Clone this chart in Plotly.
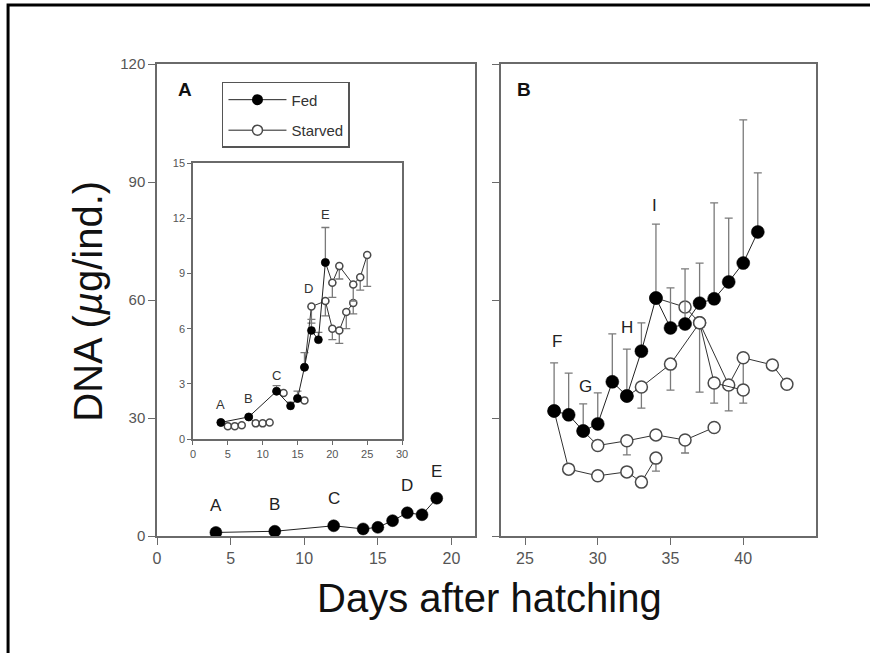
import plotly.graph_objects as go

# ---------------- data ----------------
# Panel A: fed larvae (days 4-19)
fed_A_days = [4, 8, 12, 14, 15, 16, 17, 18, 19]
fed_A_vals = [0.9, 1.2, 2.6, 1.8, 2.2, 3.9, 5.9, 5.4, 9.6]
fed_A_err = [0.1, 0.1, 0.3, 0.2, 0.4, 0.8, 0.6, 0.4, 1.9]
fed_A_labels = ["A", "B", "C", "", "", "", "D", "", "E"]

# Inset: starved series (first point = day starvation began, fed value)
inA_days = [4, 5, 6, 7]
inA_vals = [0.9, 0.7, 0.7, 0.75]
inB_days = [8, 9, 10, 11]
inB_vals = [1.2, 0.85, 0.85, 0.9]
inC_days = [12, 13]
inC_vals = [2.6, 2.5]
inF_days = [15, 16]
inF_vals = [2.2, 2.1]
inD_days = [16, 17, 19, 20, 21, 22, 23]
inD_vals = [3.9, 7.2, 7.5, 6.0, 5.9, 6.9, 7.4]
inD_err = [0, 0.9, 0.8, 0.6, 0.7, 0.9, 0.6]
inE_days = [19, 20, 21, 23, 24, 25]
inE_vals = [9.6, 8.5, 9.4, 8.4, 8.8, 10.0]
inE_err = [0, 0.8, 0.7, 0.9, 0.7, 1.7]

# Panel B: fed larvae (days 27-41)
fed_B_days = [27, 28, 29, 30, 31, 32, 33, 34, 35, 36, 37, 38, 39, 40, 41]
fed_B_vals = [31.8, 30.8, 26.7, 28.5, 39.2, 35.6, 47.0, 60.5, 52.9, 53.9, 59.2, 60.3, 64.6, 69.4, 77.3]
fed_B_err = [12.2, 10.6, 6.9, 7.9, 12.2, 11.9, 7.2, 18.8, 10.2, 14.0, 10.2, 24.4, 16.2, 36.4, 15.0]
fed_B_labels = ["F", "", "G", "", "", "H", "", "I", "", "", "", "", "", "", ""]

# Panel B: starved series (first point = fed value when starvation began)
sF_days = [27, 28, 30, 32, 33, 34]
sF_vals = [31.8, 17.0, 15.3, 16.3, 13.7, 19.8]
sF_err = [0, 0, 0, 0, 0, 3.3]
sG_days = [29, 30, 32, 34, 36, 38]
sG_vals = [26.7, 23.0, 24.2, 25.7, 24.4, 27.6]
sG_err = [0, 0, 3.6, 0, 3.3, 0]
sH_days = [32, 33, 35, 37, 39, 40, 42, 43]
sH_vals = [35.6, 37.9, 43.7, 54.2, 38.4, 45.3, 43.5, 38.6]
sH_err = [0, 5.4, 6.6, 17.6, 6.6, 7.0, 0, 0]
sI_days = [34, 36, 37, 38, 40]
sI_vals = [60.5, 58.2, 54.2, 38.9, 37.1]
sI_err = [0, 0, 0, 5.1, 3.3]

x_ticks_A = [0, 5, 10, 15, 20]
x_ticks_B = [25, 30, 35, 40]
y_ticks = [0, 30, 60, 90, 120]
inset_x_ticks = [0, 5, 10, 15, 20, 25, 30]
inset_y_ticks = [0, 3, 6, 9, 12, 15]

# ---------------- style ----------------
FONT = "Arial, Liberation Sans, Helvetica, sans-serif"
AX = "#6a6a6a"
OPEN_LINE = "#4a4a4a"
ERR = "#7a7a7a"

fig = go.Figure()


def starved(xs, ys, xa, ya, size, err=None, lw=1.0):
    kw = {}
    if err is not None:
        kw["error_y"] = dict(type="data", symmetric=False, array=[0] * len(err),
                             arrayminus=err, color=ERR, thickness=1.3, width=4)
    fig.add_trace(go.Scatter(
        x=xs, y=ys, xaxis=xa, yaxis=ya, mode="lines+markers", showlegend=False,
        line=dict(color="#333", width=lw),
        marker=dict(symbol="circle", size=size, color="white",
                    line=dict(color=OPEN_LINE, width=1.5)),
        **kw))


def fed(xs, ys, xa, ya, size, err=None):
    kw = {}
    if err is not None:
        kw["error_y"] = dict(type="data", symmetric=False, array=err,
                             arrayminus=[0] * len(err), color=ERR, thickness=1.3, width=4)
    fig.add_trace(go.Scatter(
        x=xs, y=ys, xaxis=xa, yaxis=ya, mode="lines+markers", showlegend=False,
        line=dict(color="#222", width=1.0),
        marker=dict(symbol="circle", size=size, color="black", line=dict(color="black", width=0.5)),
        **kw))


# Panel A main (fed only)
fed(fed_A_days, fed_A_vals, "x", "y", 12)

# Inset
for d, v in [(inA_days, inA_vals), (inB_days, inB_vals), (inC_days, inC_vals), (inF_days, inF_vals)]:
    starved(d, v, "x3", "y3", 7)
starved(inD_days, inD_vals, "x3", "y3", 7, inD_err)
starved(inE_days, inE_vals, "x3", "y3", 7, inE_err)
fed(fed_A_days, fed_A_vals, "x3", "y3", 8, fed_A_err)

# Panel B
starved(sF_days, sF_vals, "x2", "y2", 12, sF_err)
starved(sG_days, sG_vals, "x2", "y2", 12, sG_err)
starved(sH_days, sH_vals, "x2", "y2", 12, sH_err)
starved(sI_days, sI_vals, "x2", "y2", 12, sI_err)
fed(fed_B_days, fed_B_vals, "x2", "y2", 13, fed_B_err)

# Legend-only entries
fig.add_trace(go.Scatter(x=[None], y=[None], xaxis="x", yaxis="y", mode="lines+markers", name="Fed",
                         legendgroup="a", line=dict(color="#222", width=1),
                         marker=dict(size=11, color="black")))
fig.add_trace(go.Scatter(x=[None], y=[None], xaxis="x", yaxis="y", mode="lines+markers", name="Starved",
                         legendgroup="b", line=dict(color="#222", width=1),
                         marker=dict(size=10, color="white", line=dict(color=OPEN_LINE, width=1.5))))

ann = []
# letter labels anchored to data points
for xv, yv, t in zip(fed_A_days, fed_A_vals, fed_A_labels):
    if t:
        ann.append(dict(x=xv, y=yv, xref="x", yref="y", text=t, showarrow=False,
                        yshift=27, font=dict(size=17, color="#222", family=FONT)))
        ann.append(dict(x=xv, y=yv, xref="x3", yref="y3", text=t, showarrow=False,
                        yshift={"A": 18, "B": 18, "C": 16, "D": 42, "E": 48}[t],
                        xshift=-3 if t == "D" else 0,
                        font=dict(size=13, color="#333", family=FONT)))
for xv, yv, t in zip(fed_B_days, fed_B_vals, fed_B_labels):
    if t:
        ann.append(dict(x=xv, y=yv, xref="x2", yref="y2", text=t, showarrow=False,
                        yshift={"F": 69, "G": 44, "H": 68, "I": 93}[t],
                        xshift={"F": 3, "G": 2, "H": 0, "I": -1}[t],
                        font=dict(size=17, color="#222", family=FONT)))

ann += [
    dict(x=0.042, y=0.945, xref="paper", yref="paper", text="<b>A</b>", showarrow=False,
         xanchor="center", yanchor="middle", font=dict(size=19, color="#111", family=FONT)),
    dict(x=0.557, y=0.945, xref="paper", yref="paper", text="<b>B</b>", showarrow=False,
         xanchor="center", yanchor="middle", font=dict(size=19, color="#111", family=FONT)),
    dict(x=0.505, y=-0.131, xref="paper", yref="paper", text="Days after hatching", showarrow=False,
         xanchor="center", yanchor="middle", font=dict(size=40, color="#111", family=FONT)),
    dict(x=-0.105, y=0.498, xref="paper", yref="paper", text="DNA (<i>µ</i>g/ind.)", showarrow=False,
         xanchor="center", yanchor="middle", textangle=-90,
         font=dict(size=40, color="#111", family=FONT)),
]

axis_common = dict(showline=True, linecolor=AX, linewidth=1.5, mirror=True, ticks="outside",
                   tickcolor=AX, tickwidth=1.3, showgrid=False, zeroline=False,
                   tickfont=dict(family=FONT, color="#555"))

fig.update_layout(
    width=870, height=653,
    margin=dict(l=157, r=54, t=64, b=117),
    paper_bgcolor="white", plot_bgcolor="white",
    font=dict(family=FONT),
    annotations=ann,
    xaxis=dict(domain=[0, 0.4826], range=[0, 21.6], anchor="y", tickvals=x_ticks_A, ticklen=7,
               **{**axis_common, "tickfont": dict(family=FONT, color="#555", size=16)}),
    yaxis=dict(domain=[0, 1], range=[0, 120], anchor="x", tickvals=y_ticks, ticklen=7,
               **{**axis_common, "tickfont": dict(family=FONT, color="#555", size=15)}),
    xaxis2=dict(domain=[0.522, 1.0], range=[23.35, 45], anchor="y2", tickvals=x_ticks_B, ticklen=7,
                **{**axis_common, "tickfont": dict(family=FONT, color="#555", size=16)}),
    yaxis2=dict(domain=[0, 1], range=[0, 120], anchor="x2", tickvals=y_ticks, ticklen=7,
                showticklabels=False, **axis_common),
    xaxis3=dict(domain=[0.0546, 0.3718], range=[0, 30], anchor="y3", tickvals=inset_x_ticks, ticklen=4,
                **{**axis_common, "tickfont": dict(family=FONT, color="#555", size=11)}),
    yaxis3=dict(domain=[0.2055, 0.790], range=[0, 15], anchor="x3", tickvals=inset_y_ticks, ticklen=4,
                **{**axis_common, "tickfont": dict(family=FONT, color="#555", size=11)}),
    legend=dict(x=0.0986, y=0.962, xanchor="left", yanchor="top", bgcolor="white",
                bordercolor="#555", borderwidth=1.5, tracegroupgap=8, itemwidth=58,
                entrywidth=128,
                font=dict(size=15, color="#333", family=FONT)),
    shapes=[dict(type="rect", xref="paper", yref="paper", x0=-0.226, x1=1.2, y0=-0.3, y1=1.125,
                 line=dict(color="black", width=3), layer="above")],
)

fig.write_html("out.html")
